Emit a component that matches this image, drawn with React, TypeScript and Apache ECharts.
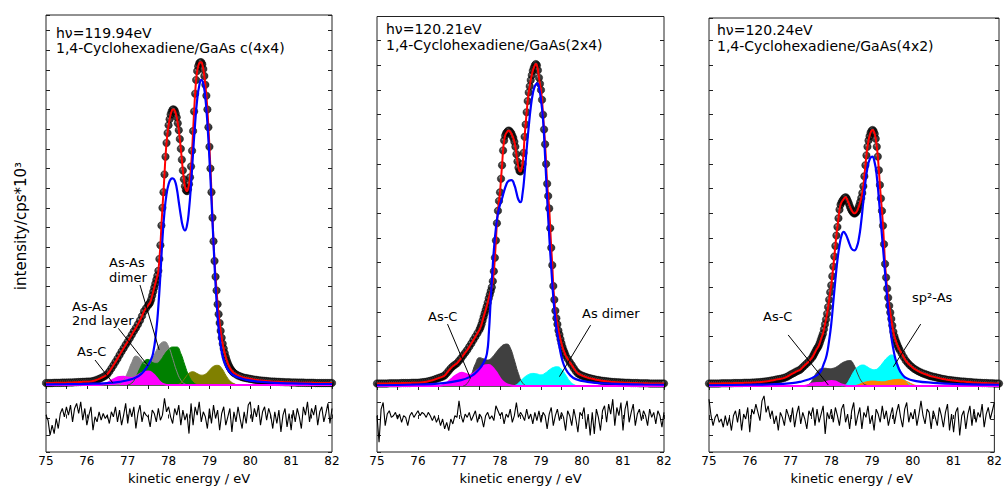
import React, { useEffect, useRef } from 'react';
import * as echarts from 'echarts';

// ---------- energy grid (kinetic energy, eV) ----------
const E_MIN = 75;
const E_MAX = 82;
const TAIL_STEP = 0.05;
const CORE_STEP = 0.025;
const LEFT_START = 75.0;
const CORE_START = 77.5;
const RIGHT_START = 79.65;
const RESID_STEP = 0.05;
const X_TICKS = [75, 76, 77, 78, 79, 80, 81, 82];

// ---------- Panel 1 : c(4x4) ----------
const p1DataLeft = [
  0.10, 0.10, 0.10, 0.10, 0.11, 0.11, 0.11, 0.11, 0.12, 0.12,
  0.12, 0.13, 0.13, 0.13, 0.14, 0.14, 0.15, 0.15, 0.16, 0.16,
  0.17, 0.17, 0.18, 0.20, 0.23, 0.27, 0.31, 0.36, 0.41, 0.47,
  0.55, 0.68, 0.84, 1.00, 1.17, 1.34, 1.52, 1.70, 1.87, 2.04,
  2.20, 2.37, 2.55, 2.73, 2.90, 3.08, 3.28, 3.50, 3.75, 3.90,
];
const p1DataCore = [
  4.05, 4.12, 4.20, 4.35, 4.55, 4.75, 4.95, 5.15, 5.35, 5.55,
  5.80, 6.40, 7.10, 8.10, 9.00, 9.80, 10.70, 11.60, 12.30, 12.80,
  13.20, 13.50, 13.75, 13.90, 14.00, 14.00, 13.95, 13.80, 13.60, 13.30,
  12.95, 12.50, 12.00, 11.45, 10.90, 10.45, 10.10, 9.90, 9.85, 9.95,
  10.20, 10.55, 11.10, 11.90, 12.90, 13.90, 14.80, 15.50, 15.95, 16.20,
  16.35, 16.40, 16.40, 16.30, 16.05, 15.70, 15.25, 14.70, 14.00, 13.10,
  12.10, 11.00, 9.80, 8.50, 7.30, 6.30, 5.50, 4.80, 4.10, 3.60,
  3.15, 2.75, 2.40, 2.10, 1.85, 1.62, 1.42, 1.25, 1.10, 0.98,
  0.88, 0.79, 0.72, 0.66, 0.61,
];
const p1DataRight = [
  0.54, 0.48, 0.44, 0.40, 0.37, 0.35, 0.33, 0.31, 0.29, 0.27,
  0.26, 0.24, 0.23, 0.22, 0.21, 0.20, 0.19, 0.18, 0.17, 0.17,
  0.16, 0.16, 0.15, 0.15, 0.14, 0.14, 0.14, 0.13, 0.13, 0.13,
  0.12, 0.12, 0.12, 0.12, 0.11, 0.11, 0.11, 0.11, 0.11, 0.10,
  0.10, 0.10, 0.10, 0.10, 0.10, 0.10, 0.10, 0.10,
];
const p1Bulk: [number, number][] = [
  [75, 0.03], [75.5, 0.04], [76, 0.06], [76.5, 0.1], [76.8, 0.16], [77.0, 0.24], [77.2, 0.38],
  [77.35, 0.6], [77.45, 0.85], [77.55, 1.2], [77.62, 1.6], [77.7, 2.8], [77.75, 4.0], [77.8, 5.6],
  [77.85, 7.4], [77.9, 8.8], [77.95, 9.7], [78.0, 10.2], [78.05, 10.45], [78.1, 10.5], [78.15, 10.4],
  [78.2, 10.0], [78.25, 9.3], [78.3, 8.6], [78.35, 8.05], [78.4, 7.85], [78.45, 8.1], [78.5, 8.9],
  [78.55, 10.2], [78.6, 11.8], [78.65, 13.3], [78.7, 14.5], [78.75, 15.2], [78.8, 15.5], [78.85, 15.3],
  [78.9, 14.6], [78.95, 13.3], [79.0, 11.5], [79.05, 9.4], [79.1, 7.2], [79.15, 5.1], [79.2, 3.5],
  [79.25, 2.4], [79.3, 1.7], [79.35, 1.25], [79.42, 0.9], [79.5, 0.65], [79.6, 0.48], [79.75, 0.35],
  [79.9, 0.26], [80.2, 0.17], [80.6, 0.11], [81.0, 0.08], [81.5, 0.06], [82, 0.05],
];
const p1Dimer2nd: [number, number][] = [
  [76.7, 0], [76.8, 0.05], [76.9, 0.25], [77.0, 0.65], [77.1, 1.15], [77.2, 1.47], [77.3, 1.35],
  [77.4, 1.1], [77.5, 1.05], [77.6, 1.3], [77.7, 1.75], [77.8, 2.1], [77.9, 2.2], [78.0, 1.95],
  [78.1, 1.35], [78.2, 0.7], [78.3, 0.25], [78.4, 0.05], [78.5, 0],
];
const p1Dimer: [number, number][] = [
  [77.0, 0], [77.1, 0.1], [77.2, 0.4], [77.3, 0.85], [77.4, 1.2], [77.5, 1.3], [77.6, 1.15],
  [77.7, 1.1], [77.8, 1.25], [77.9, 1.55], [78.0, 1.8], [78.1, 1.93], [78.2, 1.93], [78.3, 1.6],
  [78.4, 1.0], [78.5, 0.45], [78.6, 0.15], [78.7, 0.02], [78.8, 0],
];
const p1Olive: [number, number][] = [
  [78.2, 0], [78.3, 0.1], [78.4, 0.35], [78.5, 0.6], [78.6, 0.67], [78.7, 0.58], [78.8, 0.5],
  [78.9, 0.55], [79.0, 0.75], [79.1, 0.95], [79.2, 1.0], [79.3, 0.85], [79.4, 0.5], [79.5, 0.22],
  [79.6, 0.07], [79.7, 0.01], [79.8, 0],
];
const p1AsC: [number, number][] = [
  [75, 0], [76.3, 0], [76.4, 0.03], [76.5, 0.1], [76.6, 0.22], [76.7, 0.34], [76.8, 0.41],
  [76.9, 0.42], [77.0, 0.38], [77.1, 0.35], [77.2, 0.42], [77.3, 0.55], [77.4, 0.65], [77.5, 0.68],
  [77.6, 0.6], [77.7, 0.38], [77.8, 0.14], [77.9, 0.03], [78.0, 0], [82, 0],
];
const p1Resid = [
  0.1, -0.05, -0.5, -0.2, -0.45, 0.0, -0.3, 0.15, 0.3, 0.05,
  0.35, 0.1, 0.4, -0.1, 0.3, 0.45, 0.15, 0.5, -0.05, 0.3,
  -0.2, 0.1, 0.35, -0.35, 0.05, -0.1, 0.2, -0.05, 0.15, 0.0,
  0.1, -0.15, 0.2, 0.05, 0.35, -0.1, 0.25, -0.2, 0.1, 0.45,
  -0.15, 0.3, 0.05, 0.35, -0.3, 0.15, 0.4, -0.1, 0.2, 0.1,
  0.05, -0.25, 0.25, 0.15, -0.1, 0.3, -0.05, 0.1, 0.6, 0.2,
  0.35, 0.05, -0.15, 0.3, 0.1, 0.4, -0.2, 0.25, -0.05, 0.15,
  -0.45, 0.45, -0.2, 0.35, 0.1, 0.5, -0.1, 0.2, 0.05, -0.3,
  0.3, -0.15, 0.4, 0.0, 0.25, -0.35, 0.15, 0.35, -0.2, 0.05,
  0.3, -0.4, 0.2, -0.1, 0.35, 0.0, -0.3, 0.2, -0.15, 0.4,
  0.5, -0.1, 0.3, 0.05, 0.4, -0.2, 0.2, 0.35, -0.05, 0.3,
  0.1, -0.3, 0.2, -0.15, 0.25, -0.4, 0.1, 0.3, -0.25, 0.15,
  -0.35, 0.25, -0.1, 0.3, 0.05, -0.3, 0.35, 0.1, 0.5, -0.1,
  0.3, 0.1, 0.4, -0.2, 0.2, 0.35, -0.1, 0.15, 0.45, -0.15,
  0.3,
];

// ---------- Panel 2 : (2x4) ----------
const p2DataLeft = [
  0.10, 0.10, 0.10, 0.10, 0.10, 0.10, 0.11, 0.11, 0.11, 0.11,
  0.11, 0.11, 0.12, 0.12, 0.12, 0.12, 0.12, 0.13, 0.13, 0.13,
  0.13, 0.14, 0.15, 0.16, 0.17, 0.19, 0.21, 0.23, 0.26, 0.29,
  0.32, 0.35, 0.38, 0.43, 0.52, 0.62, 0.72, 0.80, 0.86, 0.92,
  1.02, 1.12, 1.24, 1.35, 1.46, 1.59, 1.72, 1.86, 2.00, 2.14,
];
const p2DataCore = [
  2.28, 2.38, 2.50, 2.65, 2.80, 2.94, 3.08, 3.22, 3.38, 3.55,
  3.70, 3.85, 4.00, 4.25, 4.65, 5.20, 5.90, 6.60, 7.10, 7.50,
  7.85, 8.40, 8.95, 9.55, 9.95, 10.15, 10.25, 10.30, 10.35, 10.35,
  10.30, 10.25, 10.15, 10.05, 9.90, 9.70, 9.40, 9.10, 8.85, 8.72,
  8.70, 8.80, 9.00, 9.45, 10.10, 10.60, 11.10, 11.55, 11.90, 12.15,
  12.40, 12.60, 12.78, 12.90, 13.00, 13.05, 13.00, 12.80, 12.50, 12.25,
  12.00, 11.60, 11.00, 10.40, 9.80, 9.00, 8.20, 7.70, 7.20, 6.40,
  5.60, 4.90, 4.05, 3.50, 3.05, 2.75, 2.50, 2.25, 2.08, 1.90,
  1.73, 1.58, 1.45, 1.35, 1.24,
];
const p2DataRight = [
  1.10, 0.97, 0.85, 0.72, 0.60, 0.51, 0.46, 0.42, 0.39, 0.36,
  0.33, 0.31, 0.29, 0.27, 0.25, 0.24, 0.22, 0.21, 0.20, 0.19,
  0.18, 0.17, 0.16, 0.16, 0.15, 0.15, 0.14, 0.14, 0.13, 0.13,
  0.13, 0.12, 0.12, 0.12, 0.12, 0.11, 0.11, 0.11, 0.11, 0.11,
  0.10, 0.10, 0.10, 0.10, 0.10, 0.10, 0.10, 0.10,
];
const p2Bulk: [number, number][] = [
  [75, 0.03], [76, 0.06], [76.5, 0.1], [77.0, 0.22], [77.3, 0.4], [77.5, 0.7], [77.6, 0.95],
  [77.68, 1.3], [77.73, 2.2], [77.77, 3.4], [77.81, 4.5], [77.85, 5.5], [77.9, 6.4], [77.95, 7.0],
  [78.0, 7.35], [78.05, 7.6], [78.1, 7.9], [78.15, 8.15], [78.2, 8.3], [78.28, 8.35], [78.35, 8.15],
  [78.4, 7.85], [78.45, 7.55], [78.5, 7.45], [78.55, 7.8], [78.6, 8.6], [78.65, 9.6], [78.7, 10.5],
  [78.75, 11.3], [78.8, 11.85], [78.85, 12.15], [78.91, 12.27], [78.95, 12.1], [79.0, 11.6],
  [79.05, 10.8], [79.1, 9.3], [79.15, 7.6], [79.2, 6.1], [79.25, 4.8], [79.3, 3.6], [79.35, 2.7],
  [79.4, 2.1], [79.46, 1.5], [79.52, 1.05], [79.6, 0.7], [79.72, 0.42], [79.85, 0.28], [80.13, 0.17],
  [80.5, 0.11], [81, 0.08], [81.5, 0.06], [82, 0.05],
];
const p2Dark: [number, number][] = [
  [77.1, 0], [77.2, 0.1], [77.3, 0.45], [77.4, 0.9], [77.5, 1.15], [77.6, 1.1], [77.7, 1.05],
  [77.8, 1.15], [77.9, 1.35], [78.0, 1.55], [78.1, 1.68], [78.17, 1.7], [78.25, 1.55], [78.35, 1.05],
  [78.45, 0.5], [78.55, 0.12], [78.65, 0],
];
const p2Dimer: [number, number][] = [
  [78.3, 0], [78.4, 0.05], [78.5, 0.2], [78.6, 0.36], [78.7, 0.47], [78.8, 0.51], [78.9, 0.49],
  [79.0, 0.45], [79.1, 0.52], [79.2, 0.65], [79.3, 0.75], [79.4, 0.78], [79.5, 0.68], [79.6, 0.45],
  [79.7, 0.2], [79.8, 0.06], [79.9, 0.01], [80.0, 0],
];
const p2AsC: [number, number][] = [
  [75, 0], [76.5, 0], [76.6, 0.03], [76.7, 0.12], [76.8, 0.26], [76.9, 0.4], [77.0, 0.5],
  [77.07, 0.54], [77.15, 0.5], [77.25, 0.45], [77.35, 0.5], [77.45, 0.64], [77.55, 0.77],
  [77.65, 0.84], [77.72, 0.85], [77.8, 0.78], [77.9, 0.58], [78.0, 0.32], [78.1, 0.14],
  [78.2, 0.05], [78.3, 0.01], [78.4, 0], [82, 0],
];
const p2Resid = [
  0.1, -0.7, 0.3, 0.5, -0.2, 0.15, 0.25, 0.05, 0.1, 0.2,
  0.0, 0.15, -0.1, 0.1, 0.05, -0.2, 0.1, 0.2, 0.05, 0.15,
  0.25, 0.1, 0.2, 0.15, 0.05, 0.2, 0.1, -0.05, 0.1, -0.1,
  0.05, -0.2, 0.0, -0.3, -0.1, -0.35, 0.0, -0.15, 0.1, 0.05,
  0.55, 0.1, -0.1, 0.15, 0.05, 0.2, -0.05, 0.1, 0.25, -0.1,
  0.15, 0.05, -0.25, 0.1, 0.2, 0.0, 0.1, -0.05, 0.4, 0.25,
  0.1, 0.2, -0.15, 0.15, 0.05, 0.3, -0.1, 0.1, 0.5, 0.05,
  0.2, 0.1, -0.05, 0.3, 0.0, 0.15, -0.15, 0.2, -0.05, 0.25,
  -0.1, 0.2, 0.1, -0.3, 0.15, 0.35, -0.2, 0.1, 0.3, -0.05,
  0.2, 0.05, -0.35, 0.25, 0.1, -0.2, 0.3, 0.0, -0.4, 0.2,
  0.1, 0.35, -0.3, 0.15, -0.5, 0.2, -0.45, 0.3, 0.05, -0.35,
  0.25, 0.4, -0.1, 0.45, 0.15, 0.6, -0.2, 0.35, 0.1, 0.5,
  -0.35, 0.3, 0.55, -0.1, 0.2, 0.45, -0.2, 0.15, 0.3, -0.05,
  0.25, 0.1, -0.2, 0.3, 0.05, 0.2, -0.15, 0.25, 0.1, -0.25,
  0.2,
];

// ---------- Panel 3 : (4x2) ----------
const p3DataLeft = [
  0.10, 0.10, 0.10, 0.10, 0.10, 0.10, 0.11, 0.11, 0.11, 0.11,
  0.11, 0.11, 0.12, 0.12, 0.12, 0.12, 0.12, 0.13, 0.13, 0.13,
  0.13, 0.14, 0.14, 0.15, 0.15, 0.16, 0.17, 0.18, 0.19, 0.20,
  0.22, 0.23, 0.25, 0.27, 0.28, 0.30, 0.32, 0.35, 0.39, 0.44,
  0.49, 0.53, 0.58, 0.62, 0.66, 0.74, 0.82, 0.90, 0.98, 1.07,
];
const p3DataCore = [
  1.18, 1.26, 1.34, 1.42, 1.50, 1.56, 1.64, 1.75, 1.88, 2.00,
  2.12, 2.30, 2.50, 2.70, 2.93, 3.20, 3.50, 3.80, 4.08, 4.45,
  4.84, 5.25, 5.68, 6.10, 6.45, 6.80, 7.15, 7.35, 7.45, 7.52,
  7.58, 7.63, 7.65, 7.60, 7.50, 7.40, 7.28, 7.18, 7.10, 7.04,
  7.00, 7.00, 7.04, 7.10, 7.20, 7.32, 7.46, 7.62, 7.82, 8.10,
  8.50, 8.95, 9.35, 9.70, 9.95, 10.13, 10.27, 10.35, 10.38, 10.33,
  10.22, 10.02, 9.70, 9.30, 8.75, 8.15, 7.60, 7.10, 6.50, 5.75,
  4.95, 4.40, 3.95, 3.58, 3.25, 2.98, 2.72, 2.45, 2.20, 2.02,
  1.88, 1.76, 1.65, 1.55, 1.46,
];
const p3DataRight = [
  1.32, 1.17, 1.03, 0.93, 0.84, 0.77, 0.70, 0.65, 0.60, 0.56,
  0.52, 0.49, 0.46, 0.43, 0.40, 0.38, 0.36, 0.34, 0.32, 0.30,
  0.28, 0.27, 0.25, 0.24, 0.23, 0.22, 0.21, 0.20, 0.19, 0.18,
  0.18, 0.17, 0.16, 0.16, 0.15, 0.14, 0.14, 0.13, 0.13, 0.12,
  0.12, 0.12, 0.11, 0.11, 0.11, 0.10, 0.10, 0.10,
];
const p3Bulk: [number, number][] = [
  [75, 0.03], [76, 0.05], [76.5, 0.07], [77.0, 0.12], [77.2, 0.17], [77.4, 0.26], [77.55, 0.38],
  [77.68, 0.55], [77.76, 0.85], [77.84, 1.25], [77.9, 1.85], [77.95, 2.5], [78.0, 3.4], [78.05, 4.3],
  [78.1, 5.1], [78.15, 5.7], [78.2, 6.1], [78.25, 6.25], [78.3, 6.15], [78.35, 5.95], [78.4, 5.72],
  [78.45, 5.55], [78.51, 5.5], [78.57, 5.65], [78.62, 6.0], [78.67, 6.6], [78.72, 7.4], [78.77, 8.2],
  [78.82, 8.8], [78.88, 9.2], [78.94, 9.3], [79.0, 9.05], [79.05, 8.5], [79.1, 7.6], [79.15, 6.6],
  [79.2, 5.6], [79.25, 4.6], [79.3, 3.6], [79.35, 2.7], [79.4, 2.0], [79.45, 1.5], [79.5, 1.1],
  [79.57, 0.75], [79.65, 0.5], [79.77, 0.31], [80, 0.2], [80.41, 0.13], [81, 0.08], [82, 0.05],
];
const p3Dark: [number, number][] = [
  [77.3, 0], [77.4, 0.05], [77.5, 0.25], [77.6, 0.55], [77.7, 0.7], [77.8, 0.72], [77.9, 0.7],
  [78.0, 0.72], [78.1, 0.8], [78.2, 0.92], [78.3, 1.0], [78.4, 1.03], [78.5, 0.85], [78.6, 0.45],
  [78.7, 0.15], [78.8, 0.03], [78.9, 0],
];
const p3Sp2: [number, number][] = [
  [78.2, 0], [78.3, 0.05], [78.4, 0.3], [78.5, 0.6], [78.6, 0.78], [78.72, 0.85], [78.8, 0.8],
  [78.9, 0.7], [79.0, 0.66], [79.1, 0.75], [79.2, 0.95], [79.3, 1.15], [79.41, 1.26], [79.5, 1.1],
  [79.6, 0.7], [79.7, 0.35], [79.8, 0.12], [79.9, 0.03], [80.0, 0],
];
const p3Orange: [number, number][] = [
  [78.5, 0], [78.6, 0.05], [78.7, 0.12], [78.8, 0.17], [78.97, 0.2], [79.1, 0.18], [79.2, 0.17],
  [79.3, 0.2], [79.45, 0.25], [79.61, 0.27], [79.75, 0.2], [79.9, 0.08], [80.0, 0.02], [80.1, 0],
];
const p3AsC: [number, number][] = [
  [75, 0], [77.3, 0], [77.4, 0.04], [77.5, 0.1], [77.6, 0.12], [77.7, 0.12], [77.8, 0.15],
  [77.9, 0.19], [77.96, 0.2], [78.05, 0.18], [78.15, 0.1], [78.25, 0.04], [78.35, 0], [82, 0],
];
const p3Resid = [
  0.6, 0.1, -0.2, 0.05, 0.15, -0.1, 0.0, -0.25, 0.1, -0.2,
  0.05, -0.35, 0.1, 0.25, -0.1, 0.3, -0.35, 0.15, 0.0, 0.35,
  -0.4, 0.3, 0.15, 0.45, 0.2, -0.05, 0.55, 0.7, 0.2, 0.4,
  0.05, 0.25, -0.15, 0.1, -0.35, 0.2, 0.05, -0.2, 0.3, 0.1,
  -0.1, 0.35, -0.25, 0.15, 0.4, -0.15, 0.2, 0.0, -0.3, 0.25,
  0.1, 0.35, -0.2, 0.3, -0.1, 0.15, 0.4, -0.45, 0.2, 0.0,
  0.3, -0.1, 0.35, 0.1, -0.2, 0.3, 0.45, -0.1, 0.15, -0.3,
  0.25, 0.5, -0.2, 0.1, 0.35, -0.3, 0.2, 0.05, 0.4, -0.15,
  0.1, -0.35, 0.3, 0.15, -0.1, 0.4, 0.0, 0.25, -0.2, 0.1,
  0.35, -0.15, 0.2, 0.45, 0.05, -0.25, 0.3, 0.5, -0.1, 0.2,
  0.0, 0.3, -0.2, 0.15, 0.55, 0.1, -0.15, 0.3, 0.2, -0.3,
  0.25, 0.05, -0.2, 0.35, 0.1, -0.25, 0.2, 0.45, -0.35, 0.15,
  -0.4, 0.2, 0.35, -0.5, 0.1, 0.25, -0.3, 0.15, 0.4, -0.2,
  0.3, -0.1, 0.2, 0.05, 0.45, -0.25, 0.15, 0.35, 0.0, 0.25,
  0.5,
];

// annotation pointer lines (data coordinates: [E, intensity])
const p1Pointers: [number, number][][] = [
  [[77.30, 5.08], [77.77, 1.78]],
  [[76.77, 2.88], [77.50, 0.97]],
  [[76.20, 1.27], [76.63, 0.12]],
];
const p2Pointers: [number, number][][] = [
  [[76.72, 2.51], [77.28, 0.31]],
  [[80.21, 2.47], [79.45, 0.38]],
];
const p3Pointers: [number, number][][] = [
  [[76.91, 2.07], [77.88, 0.04]],
  [[80.11, 2.51], [79.45, 0.78]],
];

const FONT = 'DejaVu Sans';

function onGrid(values: number[], start: number, step: number): [number, number][] {
  return values.map((v, i) => [Math.round((start + i * step) * 1000) / 1000, v]);
}
function spectrum(l: number[], c: number[], r: number[]): [number, number][] {
  return [
    ...onGrid(l, LEFT_START, TAIL_STEP),
    ...onGrid(c, CORE_START, CORE_STEP),
    ...onGrid(r, RIGHT_START, TAIL_STEP),
  ];
}

type Comp = { data: [number, number][]; color: string; width?: number };
type Panel = {
  left: number; top: number; width: number; height: number;
  resTop: number; resHeight: number; yMax: number;
  data: [number, number][]; bulk: [number, number][]; comps: Comp[];
  resid: number[]; pointers: [number, number][][];
  title: string[]; titleX: number; titleY: number[];
  labels: { text: string; x: number; y: number }[];
};

const panels: Panel[] = [
  {
    left: 46, top: 15, width: 286, height: 370, resTop: 385, resHeight: 67, yMax: 18.8,
    data: spectrum(p1DataLeft, p1DataCore, p1DataRight), bulk: p1Bulk,
    comps: [
      { data: p1Dimer2nd, color: '#858585' },
      { data: p1Olive, color: '#808000' },
      { data: p1Dimer, color: '#008000' },
      { data: p1AsC, color: '#ff00ff', width: 2 },
    ],
    resid: p1Resid, pointers: p1Pointers,
    title: ['h\u03bd=119.94eV', '1,4-Cyclohexadiene/GaAs c(4x4)'], titleX: 56, titleY: [33, 48],
    labels: [
      { text: 'As-As', x: 109, y: 262 }, { text: 'dimer', x: 109, y: 277 },
      { text: 'As-As', x: 72, y: 306 }, { text: '2nd layer', x: 72, y: 320 },
      { text: 'As-C', x: 77, y: 351 },
    ],
  },
  {
    left: 377, top: 16.5, width: 287, height: 369.5, resTop: 386, resHeight: 66, yMax: 14.98,
    data: spectrum(p2DataLeft, p2DataCore, p2DataRight), bulk: p2Bulk,
    comps: [
      { data: p2Dark, color: '#404040' },
      { data: p2Dimer, color: '#00ffff' },
      { data: p2AsC, color: '#ff00ff', width: 2 },
    ],
    resid: p2Resid, pointers: p2Pointers,
    title: ['h\u03bd=120.21eV', '1,4-Cyclohexadiene/GaAs(2x4)'], titleX: 386, titleY: [29, 45],
    labels: [
      { text: 'As-C', x: 428, y: 316 },
      { text: 'As dimer', x: 582, y: 313 },
    ],
  },
  {
    left: 709, top: 18, width: 290, height: 368, resTop: 386, resHeight: 66, yMax: 14.92,
    data: spectrum(p3DataLeft, p3DataCore, p3DataRight), bulk: p3Bulk,
    comps: [
      { data: p3Dark, color: '#404040' },
      { data: p3Sp2, color: '#00ffff' },
      { data: p3Orange, color: '#ff8000' },
      { data: p3AsC, color: '#ff00ff', width: 2 },
    ],
    resid: p3Resid, pointers: p3Pointers,
    title: ['h\u03bd=120.24eV', '1,4-Cyclohexadiene/GaAs(4x2)'], titleX: 717, titleY: [30, 46],
    labels: [
      { text: 'As-C', x: 763, y: 316 },
      { text: 'sp\u00b2-As', x: 912, y: 297 },
    ],
  },
];

function buildOption() {
  const grids: any[] = [];
  const xAxes: any[] = [];
  const yAxes: any[] = [];
  const series: any[] = [];
  const graphics: any[] = [];
  const tick = { show: true, inside: true, length: 4, lineStyle: { color: '#222', width: 1 } };

  const dotColor = new echarts.graphic.RadialGradient(0.38, 0.32, 0.6, [
    { offset: 0, color: '#8a8a8a' },
    { offset: 0.4, color: '#141414' },
    { offset: 1, color: '#000' },
  ]);

  panels.forEach((p, i) => {
    const gMain = 2 * i;
    const gRes = 2 * i + 1;
    grids.push({ left: p.left, top: p.top, width: p.width, height: p.height, show: true, borderColor: '#222', borderWidth: 1, backgroundColor: 'transparent' });
    grids.push({ left: p.left, top: p.resTop, width: p.width, height: p.resHeight, show: true, borderColor: '#222', borderWidth: 1, backgroundColor: 'transparent' });

    xAxes.push({
      gridIndex: gMain, type: 'value', position: 'top', min: E_MIN, max: E_MAX, interval: 0.5,
      axisLine: { show: false }, axisTick: tick, axisLabel: { show: false }, splitLine: { show: false },
    });
    xAxes.push({
      gridIndex: gRes, type: 'value', position: 'bottom', min: E_MIN, max: E_MAX, interval: 0.5,
      axisLine: { show: false }, axisTick: tick, splitLine: { show: false },
      axisLabel: {
        show: true, margin: 3, fontFamily: FONT, fontSize: 12, color: '#000',
        showMinLabel: true, showMaxLabel: true,
        formatter: (v: number) => (X_TICKS.indexOf(v) >= 0 ? String(v) : ''),
      },
      name: 'kinetic energy / eV', nameLocation: 'middle', nameGap: 20,
      nameTextStyle: { fontFamily: FONT, fontSize: 13, color: '#000' },
    });

    yAxes.push({ gridIndex: gMain, type: 'value', position: 'left', min: 0, max: p.yMax, interval: 1, axisLine: { show: false }, axisTick: tick, axisLabel: { show: false }, splitLine: { show: false } });
    yAxes.push({ gridIndex: gMain, type: 'value', position: 'right', min: 0, max: p.yMax, interval: 1, axisLine: { show: false }, axisTick: tick, axisLabel: { show: false }, splitLine: { show: false } });
    yAxes.push({ gridIndex: gRes, type: 'value', position: 'left', min: -1, max: 1, interval: 0.5, axisLine: { show: false }, axisTick: tick, axisLabel: { show: false }, splitLine: { show: false } });
    yAxes.push({ gridIndex: gRes, type: 'value', position: 'right', min: -1, max: 1, interval: 0.5, axisLine: { show: false }, axisTick: tick, axisLabel: { show: false }, splitLine: { show: false } });

    const xi = 2 * i;
    const yi = 4 * i;

    p.comps.forEach((c) => {
      series.push({
        type: 'line', xAxisIndex: xi, yAxisIndex: yi, data: c.data, smooth: true, symbol: 'none',
        lineStyle: { color: c.color, width: c.width || 1 }, areaStyle: { color: c.color, opacity: 1 },
        silent: true,
      });
    });
    series.push({
      type: 'line', xAxisIndex: xi, yAxisIndex: yi, data: p.data, smooth: true, symbol: 'none',
      lineStyle: { color: '#ff0000', width: 2 }, silent: true,
    });
    series.push({
      type: 'scatter', xAxisIndex: xi, yAxisIndex: yi, data: p.data, symbol: 'circle', symbolSize: 7.5,
      itemStyle: { color: dotColor, borderColor: '#000', borderWidth: 0.5 }, silent: true,
    });
    series.push({
      type: 'line', xAxisIndex: xi, yAxisIndex: yi, data: p.bulk, smooth: true, symbol: 'none',
      lineStyle: { color: '#0000ff', width: 2.2 }, silent: true,
      markLine: {
        silent: true, symbol: ['none', 'none'], animation: false,
        lineStyle: { color: '#000', width: 1, type: 'solid' }, label: { show: false },
        data: p.pointers.map((pt) => [{ coord: pt[0] }, { coord: pt[1] }]),
      },
    });
    series.push({
      type: 'line', xAxisIndex: 2 * i + 1, yAxisIndex: 4 * i + 2,
      data: onGrid(p.resid, E_MIN, RESID_STEP), symbol: 'none',
      lineStyle: { color: '#000', width: 1.1 }, silent: true,
    });

    p.title.forEach((t, k) => {
      graphics.push({
        type: 'text', x: p.titleX, y: p.titleY[k],
        style: { text: t, fontFamily: FONT, fontSize: 14, fill: '#000', align: 'left', verticalAlign: 'middle' },
      });
    });
    p.labels.forEach((l) => {
      graphics.push({
        type: 'text', x: l.x, y: l.y,
        style: { text: l.text, fontFamily: FONT, fontSize: 13, fill: '#000', align: 'left', verticalAlign: 'middle' },
      });
    });
  });

  graphics.push({
    type: 'text', x: 21, y: 226, rotation: Math.PI / 2,
    style: { text: 'intensity/cps*10\u00b3', fontFamily: FONT, fontSize: 15, fill: '#000', align: 'center', verticalAlign: 'middle' },
  });

  return {
    animation: false,
    backgroundColor: '#fff',
    grid: grids,
    xAxis: xAxes,
    yAxis: yAxes,
    series,
    graphic: graphics,
  };
}

export default function App() {
  const ref = useRef<HTMLDivElement>(null);
  useEffect(() => {
    const chart = echarts.init(ref.current as HTMLDivElement, null, { renderer: 'svg' });
    chart.setOption(buildOption() as any);
    return () => chart.dispose();
  }, []);
  return <div ref={ref} style={{ position: 'fixed', left: 0, top: 0, width: 1005, height: 486 }} />;
}
